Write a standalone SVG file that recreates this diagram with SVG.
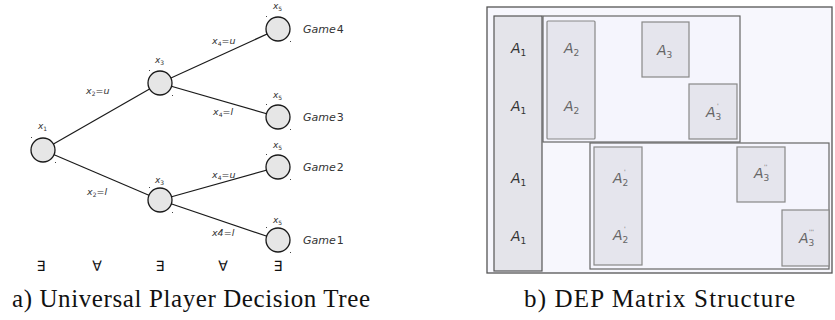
<svg xmlns="http://www.w3.org/2000/svg" width="835" height="320" viewBox="0 0 835 320">
<style>
  .nd { fill: #e6e6e6; stroke: #1a1a1a; stroke-width: 1.3; }
  .ed { stroke: #1a1a1a; stroke-width: 1.2; fill: none; }
  .dot { fill: #444; }
  .lb { font-family: "DejaVu Sans", sans-serif; font-style: italic; fill: #333; }
  .el { font-size: 9.5px; }
  .nl { font-size: 9px; }
  .ts { font-size: 6px; font-style: normal; }
  .gm { font-size: 11px; fill: #333; }
  .q { font-family: "DejaVu Sans", sans-serif; font-size: 14px; fill: #111; }
  .cap { font-family: "Liberation Serif", serif; font-size: 25px; fill: #111; }
  .outer { fill: #f7f7fd; stroke: #555; stroke-width: 1.3; }
  .col { fill: #e4e4ea; stroke: #555; stroke-width: 1.2; }
  .grp { fill: #f5f5fd; stroke: #666; stroke-width: 1.2; }
  .box { fill: #e5e5ed; stroke: #888; stroke-width: 1.2; }
  .am { font-family: "DejaVu Sans", sans-serif; font-style: italic; font-size: 14px; fill: #666; }
  .am1 { fill: #333; }
  .sub { font-size: 9px; font-style: normal; }
  .pr { font-size: 6px; font-style: normal; }
</style>

<!-- Tree connectors -->
<g id="tree-edges">
  <line class="ed" x1="43" y1="150" x2="160" y2="83"/>
  <line class="ed" x1="43" y1="150" x2="160" y2="200"/>
  <line class="ed" x1="160" y1="83" x2="278" y2="29"/>
  <line class="ed" x1="160" y1="83" x2="278" y2="117"/>
  <line class="ed" x1="160" y1="200" x2="278" y2="167"/>
  <line class="ed" x1="160" y1="200" x2="278" y2="240"/>
  <text class="lb el" x="86" y="94">x<tspan class="ts" dy="2">2</tspan><tspan dy="-2">=u</tspan></text>
  <text class="lb el" x="87" y="195">x<tspan class="ts" dy="2">2</tspan><tspan dy="-2">=l</tspan></text>
  <text class="lb el" x="212" y="44">x<tspan class="ts" dy="2">4</tspan><tspan dy="-2">=u</tspan></text>
  <text class="lb el" x="213" y="115">x<tspan class="ts" dy="2">4</tspan><tspan dy="-2">=l</tspan></text>
  <text class="lb el" x="212" y="178">x<tspan class="ts" dy="1.5">4</tspan><tspan dy="-1.5">=u</tspan></text>
  <text class="lb el" x="212" y="236">x4=l</text>
</g>

<g id="node-x1">
  <circle class="nd" cx="43" cy="150" r="12"/>
  <rect class="dot" x="31" y="137" width="1" height="1"/>
  <rect class="dot" x="55" y="162" width="1" height="1"/>
  <text class="lb nl" x="38" y="129">x<tspan class="ts" dy="2">1</tspan></text>
</g>
<g id="node-x3-upper">
  <circle class="nd" cx="160" cy="83" r="12"/>
  <rect class="dot" x="149" y="70" width="1" height="1"/>
  <rect class="dot" x="172" y="95" width="1" height="1"/>
  <text class="lb nl" x="155" y="63">x<tspan class="ts" dy="2">3</tspan></text>
</g>
<g id="node-x3-lower">
  <circle class="nd" cx="160" cy="200" r="12"/>
  <rect class="dot" x="149" y="187" width="1" height="1"/>
  <rect class="dot" x="172" y="212" width="1" height="1"/>
  <text class="lb nl" x="155" y="183">x<tspan class="ts" dy="2">3</tspan></text>
</g>
<g id="node-x5-game4">
  <circle class="nd" cx="278" cy="29" r="12"/>
  <rect class="dot" x="266" y="16" width="1" height="1"/>
  <rect class="dot" x="290" y="41" width="1" height="1"/>
  <text class="lb nl" x="273" y="9">x<tspan class="ts" dy="2">5</tspan></text>
  <text class="lb gm" x="303" y="33">Game<tspan font-style="normal" dx="1">4</tspan></text>
</g>
<g id="node-x5-game3">
  <circle class="nd" cx="278" cy="117" r="12"/>
  <rect class="dot" x="266" y="104" width="1" height="1"/>
  <rect class="dot" x="290" y="129" width="1" height="1"/>
  <text class="lb nl" x="273" y="98">x<tspan class="ts" dy="2">5</tspan></text>
  <text class="lb gm" x="303" y="121">Game<tspan font-style="normal" dx="1">3</tspan></text>
</g>
<g id="node-x5-game2">
  <circle class="nd" cx="278" cy="167" r="12"/>
  <rect class="dot" x="266" y="154" width="1" height="1"/>
  <rect class="dot" x="290" y="179" width="1" height="1"/>
  <text class="lb nl" x="273" y="148">x<tspan class="ts" dy="2">5</tspan></text>
  <text class="lb gm" x="303" y="171">Game<tspan font-style="normal" dx="1">2</tspan></text>
</g>
<g id="node-x5-game1">
  <circle class="nd" cx="278" cy="240" r="12"/>
  <rect class="dot" x="266" y="227" width="1" height="1"/>
  <rect class="dot" x="290" y="252" width="1" height="1"/>
  <text class="lb nl" x="273" y="223">x<tspan class="ts" dy="2">5</tspan></text>
  <text class="lb gm" x="303" y="244">Game<tspan font-style="normal" dx="1">1</tspan></text>
</g>

<g id="quantifiers">
  <text class="q" x="41" y="271" text-anchor="middle">∃</text>
  <text class="q" x="97" y="271" text-anchor="middle">∀</text>
  <text class="q" x="160" y="271" text-anchor="middle">∃</text>
  <text class="q" x="223" y="271" text-anchor="middle">∀</text>
  <text class="q" x="278" y="271" text-anchor="middle">∃</text>
</g>

<text class="cap" x="12" y="307" textLength="358" lengthAdjust="spacing">a) Universal Player Decision Tree</text>

<!-- DEP matrix -->
<g id="matrix-outer">
  <rect class="outer" x="487" y="7" width="345" height="266"/>
</g>
<g id="col-A1">
  <rect class="col" x="494" y="16" width="48" height="255"/>
  <text class="am am1" x="511" y="53">A<tspan class="sub" dy="3">1</tspan></text>
  <text class="am am1" x="511" y="111">A<tspan class="sub" dy="3">1</tspan></text>
  <text class="am am1" x="511" y="183">A<tspan class="sub" dy="3">1</tspan></text>
  <text class="am am1" x="511" y="241">A<tspan class="sub" dy="3">1</tspan></text>
</g>
<g id="group-upper">
  <rect class="grp" x="543" y="16" width="197" height="126"/>
</g>
<g id="group-lower">
  <rect class="grp" x="590" y="143" width="239" height="126"/>
</g>
<g id="box-A2">
  <rect class="box" x="547" y="21" width="48" height="118" rx="1"/>
  <text class="am" x="564" y="53">A<tspan class="sub" dy="3">2</tspan></text>
  <text class="am" x="564" y="111">A<tspan class="sub" dy="3">2</tspan></text>
</g>
<g id="box-A3">
  <rect class="box" x="642" y="22" width="47" height="55"/>
  <text class="am" x="657" y="55">A<tspan class="sub" dy="3">3</tspan></text>
</g>
<g id="box-A3p">
  <rect class="box" x="689" y="84" width="48" height="55"/>
  <text class="am" x="706" y="117">A<tspan class="sub" dy="3">3</tspan><tspan class="pr" x="717" y="108">'</tspan></text>
</g>
<g id="box-A2p">
  <rect class="box" x="594" y="147" width="48" height="118"/>
  <text class="am" x="613" y="183">A<tspan class="sub" dy="3">2</tspan><tspan class="pr" x="624" y="174">'</tspan></text>
  <text class="am" x="613" y="240">A<tspan class="sub" dy="3">2</tspan><tspan class="pr" x="624" y="231">'</tspan></text>
</g>
<g id="box-A3pp">
  <rect class="box" x="737" y="147" width="48" height="55"/>
  <text class="am" x="754" y="178">A<tspan class="sub" dy="3">3</tspan><tspan class="pr" x="764" y="169">''</tspan></text>
</g>
<g id="box-A3ppp">
  <rect class="box" x="782" y="210" width="47" height="56"/>
  <text class="am" x="799" y="243">A<tspan class="sub" dy="3">3</tspan><tspan class="pr" x="809" y="234">'''</tspan></text>
</g>

<text class="cap" x="524" y="307" textLength="271" lengthAdjust="spacing">b) DEP Matrix Structure</text>
</svg>
